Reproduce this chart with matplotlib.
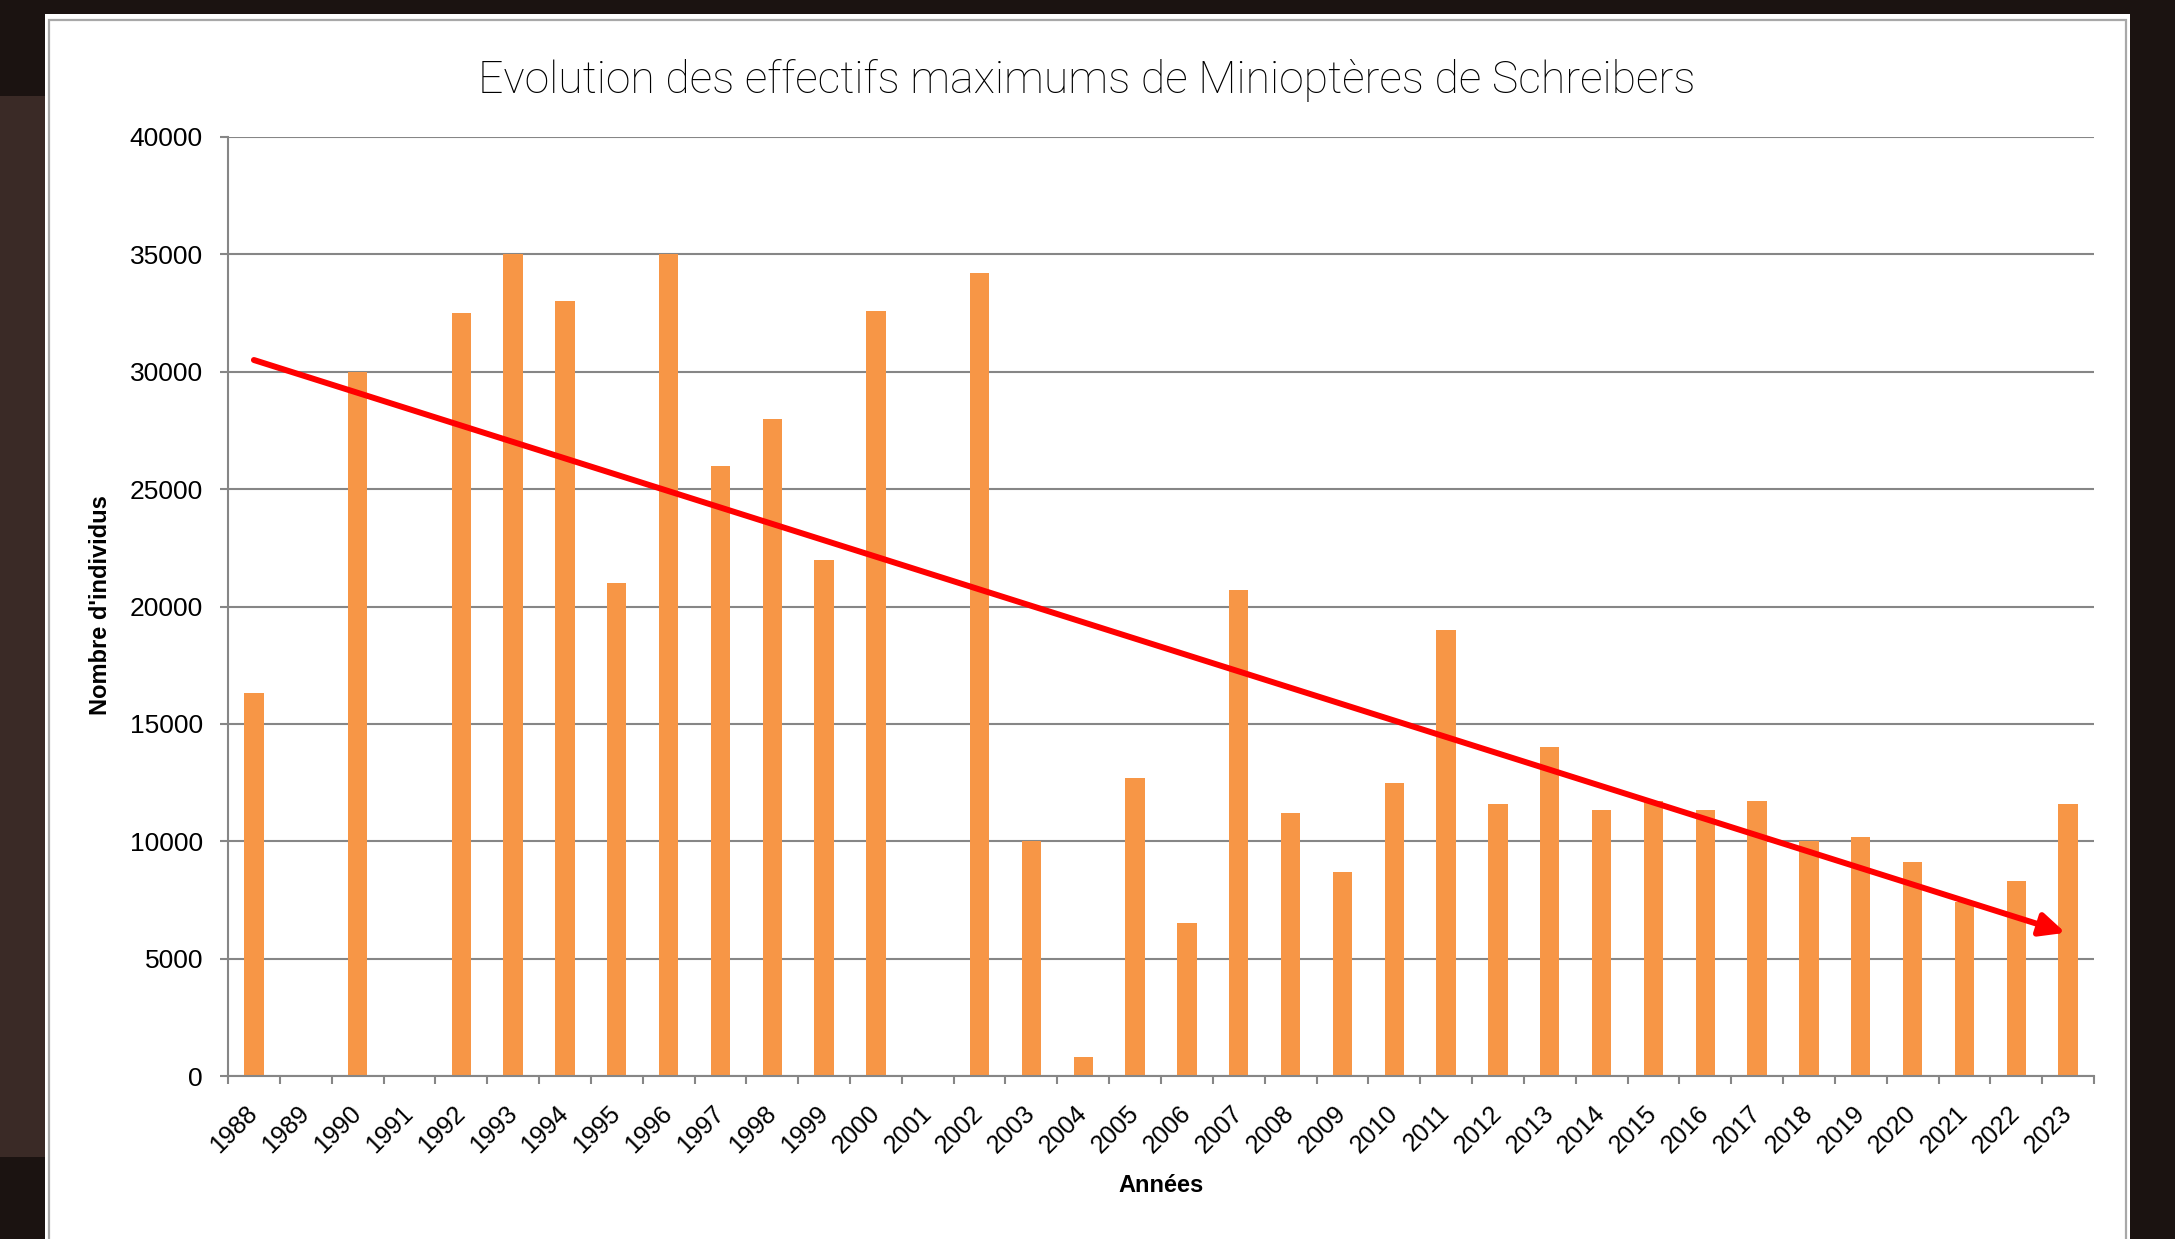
import numpy as np
import matplotlib
matplotlib.use('Agg')
import matplotlib.pyplot as plt
from matplotlib.patches import Rectangle

# Data
years = list(range(1988, 2024))
effectifs = [16300, 0, 30000, 0, 32500, 35000, 33000, 21000, 35000, 26000,
             28000, 22000, 32600, 0, 34200, 10000, 800, 12700, 6500, 20700,
             11200, 8700, 12500, 19000, 11600, 14000, 11350, 11700, 11350, 11700,
             10000, 10200, 9100, 7400, 8300, 11600]
# hand drawn trend arrow (start / end values)
trend_years = [1988, 2022.95]
trend_values = [30500, 6100]
yticks = list(range(0, 40001, 5000))

title = "Evolution des effectifs maximums de Minioptères de Schreibers"
xlabel = "Années"
ylabel = "Nombre d'individus"

W, H = 2175, 1239
fig = plt.figure(figsize=(W / 100, H / 100), dpi=100)
fig.patch.set_facecolor('#1b1311')

# background pieces around the chart
fig.patches.append(Rectangle((0, 1 - 1157 / H), 45 / W, (1157 - 96) / H,
                             transform=fig.transFigure, facecolor='#3a2a26',
                             edgecolor='none', zorder=-3))
fig.patches.append(Rectangle((45 / W, 0), (2130 - 45) / W, (H - 14) / H,
                             transform=fig.transFigure, facecolor='white',
                             edgecolor='none', zorder=-2))
fig.patches.append(Rectangle((49 / W, -0.01), (2126 - 49) / W, (H - 20) / H + 0.01,
                             transform=fig.transFigure, facecolor='none',
                             edgecolor='#a8a8a8', lw=1.6, zorder=-1))

ax = fig.add_axes([228 / W, 1 - 1076 / H, (2094 - 228) / W, (1076 - 137) / H])
ax.set_zorder(2)
ax.set_facecolor('white')

x = np.arange(len(years))
ax.bar(x, effectifs, width=0.37, color='#f79646', zorder=2)

# trend arrow
tx = [years.index(1988) + (t - 1988) for t in trend_years]
ax.annotate('', xy=(tx[1], trend_values[1]), xytext=(tx[0], trend_values[0]),
            arrowprops=dict(arrowstyle='-|>,head_length=0.75,head_width=0.35',
                            color='#ff0000', lw=4.3, mutation_scale=20,
                            shrinkA=0, shrinkB=0), zorder=3)

ax.set_xlim(-0.5, len(years) - 0.5)
ax.set_ylim(0, 40000)
ax.set_yticks(yticks)
ax.set_yticklabels([str(v) for v in yticks])
ax.yaxis.grid(True, color='#868686', lw=1.5, zorder=1)
ax.set_axisbelow(True)

ax.set_xticks(x)
ax.set_xticklabels([str(y) for y in years], rotation=45, ha='right',
                   va='center', rotation_mode='anchor')
ax.set_xticks(np.arange(len(years) + 1) - 0.5, minor=True)
ax.tick_params(axis='x', which='major', length=0, pad=24, labelsize=18,
               labelfontfamily='Liberation Sans')
ax.tick_params(axis='x', which='minor', length=6, width=1.5, color='#868686',
               direction='out')
ax.tick_params(axis='y', length=6, width=1.5, color='#868686', pad=12,
               labelsize=19, labelfontfamily='Liberation Sans')

for s in ['top', 'right']:
    ax.spines[s].set_visible(False)
for s in ['left', 'bottom']:
    ax.spines[s].set_color('#868686')
    ax.spines[s].set_linewidth(1.5)

fig.text(1087 / W, 1 - 93 / H, title, ha='center', va='baseline', fontsize=32,
         family='Roboto', fontweight='light', color='#000000')
fig.text(101 / W, 1 - 605 / H, ylabel, rotation=90, ha='center', va='center',
         fontsize=17, fontweight='bold', family='Liberation Sans')
fig.text(1161 / W, 1 - 1186 / H, xlabel, ha='center', va='center',
         fontsize=17, fontweight='bold', family='Liberation Sans')

fig.savefig('out.png', dpi=100, facecolor=fig.get_facecolor())
